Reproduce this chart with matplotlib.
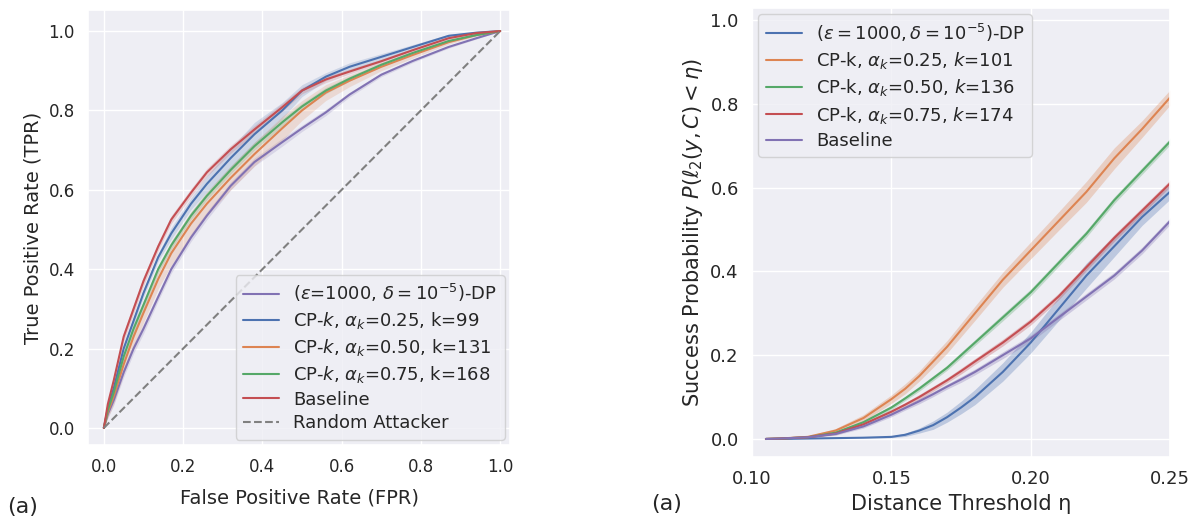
import numpy as np
import matplotlib
matplotlib.use('Agg')
import matplotlib.pyplot as plt
import seaborn as sns

sns.set_theme(style='darkgrid')
plt.rcParams['font.family'] = ['DejaVu Sans']
plt.rcParams['axes.facecolor'] = '#EEEEF4'

pal = sns.color_palette('deep')
c_blue, c_orange, c_green, c_red, c_purple = pal[0], pal[1], pal[2], pal[3], pal[4]

# ---- left: ROC curves ----
roc_fpr = [0, 0.01, 0.025, 0.05, 0.075, 0.1, 0.137, 0.17, 0.22, 0.26, 0.32, 0.38,
           0.45, 0.5, 0.56, 0.62, 0.7, 0.78, 0.87, 0.94, 1.0]
roc_base = [0, 0.06, 0.12, 0.23, 0.3, 0.37, 0.457, 0.525, 0.593, 0.644, 0.702, 0.752,
            0.808, 0.85, 0.878, 0.898, 0.924, 0.952, 0.982, 0.995, 1.0]
roc_cp25 = [0, 0.05, 0.10, 0.20, 0.27, 0.34, 0.43, 0.49, 0.565, 0.615, 0.68, 0.74,
            0.80, 0.85, 0.885, 0.91, 0.935, 0.96, 0.988, 0.996, 1.0]
roc_cp50 = [0, 0.04, 0.08, 0.16, 0.23, 0.29, 0.375, 0.44, 0.515, 0.565, 0.63, 0.69,
            0.755, 0.80, 0.845, 0.875, 0.91, 0.94, 0.972, 0.99, 1.0]
roc_cp75 = [0, 0.045, 0.09, 0.18, 0.25, 0.31, 0.40, 0.46, 0.535, 0.585, 0.65, 0.71,
            0.77, 0.81, 0.85, 0.88, 0.915, 0.945, 0.975, 0.99, 1.0]
roc_dp = [0, 0.035, 0.07, 0.14, 0.2, 0.25, 0.33, 0.40, 0.48, 0.535, 0.61, 0.67,
          0.72, 0.755, 0.795, 0.84, 0.89, 0.925, 0.96, 0.982, 1.0]
# half-widths of the shaded bands
roc_band_cp25 = [0, 0.01, 0.01, 0.01, 0.01, 0.01, 0.01, 0.015, 0.015, 0.02, 0.025, 0.03,
                 0.02, 0.015, 0.01, 0.01, 0.008, 0.006, 0.004, 0.002, 0]
roc_band_cp50 = [0, 0.015, 0.02, 0.025, 0.025, 0.025, 0.025, 0.03, 0.03, 0.03, 0.03, 0.03,
                 0.03, 0.025, 0.02, 0.015, 0.01, 0.008, 0.005, 0.003, 0]
roc_band_small = [0, 0.01, 0.012, 0.012, 0.012, 0.012, 0.01, 0.01, 0.01, 0.01, 0.01, 0.01,
                  0.01, 0.008, 0.008, 0.006, 0.005, 0.004, 0.003, 0.002, 0]

# ---- right: success probability ----
eta = [0.105, 0.11, 0.12, 0.13, 0.14, 0.15, 0.155, 0.16, 0.165, 0.17, 0.175, 0.18,
       0.19, 0.20, 0.21, 0.22, 0.23, 0.24, 0.25]
sp_dp = [0, 0, 0.001, 0.002, 0.003, 0.005, 0.01, 0.02, 0.033, 0.052, 0.075, 0.10,
         0.16, 0.23, 0.31, 0.39, 0.46, 0.53, 0.59]
sp_cp25 = [0, 0.001, 0.005, 0.02, 0.05, 0.095, 0.12, 0.15, 0.185, 0.22, 0.26, 0.30,
           0.38, 0.45, 0.52, 0.59, 0.67, 0.74, 0.815]
sp_cp50 = [0, 0.001, 0.004, 0.015, 0.04, 0.075, 0.097, 0.12, 0.145, 0.17, 0.2, 0.23,
           0.29, 0.35, 0.42, 0.49, 0.57, 0.64, 0.71]
sp_cp75 = [0, 0.001, 0.004, 0.013, 0.035, 0.065, 0.082, 0.10, 0.12, 0.14, 0.162, 0.185,
           0.23, 0.28, 0.34, 0.41, 0.48, 0.545, 0.61]
sp_base = [0, 0.001, 0.004, 0.012, 0.03, 0.058, 0.074, 0.09, 0.107, 0.125, 0.142, 0.16,
           0.2, 0.24, 0.29, 0.34, 0.39, 0.45, 0.52]
sp_band_dp = [0, 0, 0, 0, 0, 0.002, 0.004, 0.006, 0.01, 0.012, 0.015, 0.018,
              0.022, 0.025, 0.028, 0.03, 0.025, 0.02, 0.018]
sp_band_cp25 = [0, 0, 0.002, 0.005, 0.008, 0.01, 0.012, 0.012, 0.014, 0.015, 0.016, 0.017,
                0.018, 0.02, 0.022, 0.025, 0.025, 0.02, 0.018]
sp_band_small = [0, 0, 0.001, 0.003, 0.004, 0.005, 0.005, 0.006, 0.006, 0.006, 0.007, 0.007,
                 0.008, 0.008, 0.008, 0.008, 0.008, 0.008, 0.008]

fig = plt.figure(figsize=(11.99, 5.2), dpi=100)

ax1 = fig.add_axes([0.0734, 0.1442, 0.352, 0.8365])
x = np.array(roc_fpr)
series_l = [
    (roc_dp, roc_band_small, c_purple, r'($\epsilon$=1000, $\delta=10^{-5}$)-DP'),
    (roc_cp25, roc_band_cp25, c_blue, r'CP-$k$, $\alpha_k$=0.25, k=99'),
    (roc_cp50, roc_band_cp50, c_orange, r'CP-$k$, $\alpha_k$=0.50, k=131'),
    (roc_cp75, roc_band_small, c_green, r'CP-$k$, $\alpha_k$=0.75, k=168'),
    (roc_base, roc_band_small, c_red, 'Baseline'),
]
for yv, bw, col, lab in series_l:
    yv = np.array(yv)
    bw = np.array(bw)
    ax1.fill_between(x, yv - bw, yv + bw, color=col, alpha=0.2, lw=0)
    ax1.plot(x, yv, color=col, lw=1.5, label=lab)
ax1.plot([0, 1], [0, 1], color='gray', ls='--', lw=1.5, label='Random Attacker')
ax1.set_xlim(-0.040, 1.025)
ax1.set_ylim(-0.043, 1.053)
ax1.set_xticks([0, 0.2, 0.4, 0.6, 0.8, 1.0])
ax1.set_yticks([0, 0.2, 0.4, 0.6, 0.8, 1.0])
ax1.tick_params(labelsize=12)
ax1.set_xlabel('False Positive Rate (FPR)', fontsize=14, labelpad=9)
ax1.set_ylabel('True Positive Rate (TPR)', fontsize=14)
ax1.legend(loc='lower right', fontsize=13, borderaxespad=0.3, labelspacing=0.32)

ax2 = fig.add_axes([0.6272, 0.1212, 0.3486, 0.8635])
e = np.array(eta)
series_r = [
    (sp_dp, sp_band_dp, c_blue, r'($\epsilon=1000, \delta=10^{-5}$)-DP'),
    (sp_cp25, sp_band_cp25, c_orange, r'CP-k, $\alpha_k$=0.25, $k$=101'),
    (sp_cp50, sp_band_small, c_green, r'CP-k, $\alpha_k$=0.50, $k$=136'),
    (sp_cp75, sp_band_small, c_red, r'CP-k, $\alpha_k$=0.75, $k$=174'),
    (sp_base, sp_band_small, c_purple, 'Baseline'),
]
for yv, bw, col, lab in series_r:
    yv = np.array(yv)
    bw = np.array(bw)
    ax2.fill_between(e, yv - bw, yv + bw, color=col, alpha=0.3, lw=0)
    ax2.plot(e, yv, color=col, lw=1.5, label=lab)
ax2.set_xlim(0.1, 0.25)
ax2.set_ylim(-0.043, 1.029)
ax2.set_xticks([0.10, 0.15, 0.20, 0.25])
ax2.set_yticks([0, 0.2, 0.4, 0.6, 0.8, 1.0])
ax2.tick_params(labelsize=13)
ax2.set_xlabel('Distance Threshold η', fontsize=15, labelpad=4)
ax2.set_ylabel(r'Success Probability $P(\ell_2(y, C) < \eta)$', fontsize=15)
ax2.legend(loc='upper left', fontsize=13, borderaxespad=0.35, labelspacing=0.35)

fig.text(0.019, 0.025, '(a)', fontsize=16, ha='center', va='center')
fig.text(0.556, 0.03, '(a)', fontsize=16, ha='center', va='center')

fig.savefig('out.png', dpi=100)
